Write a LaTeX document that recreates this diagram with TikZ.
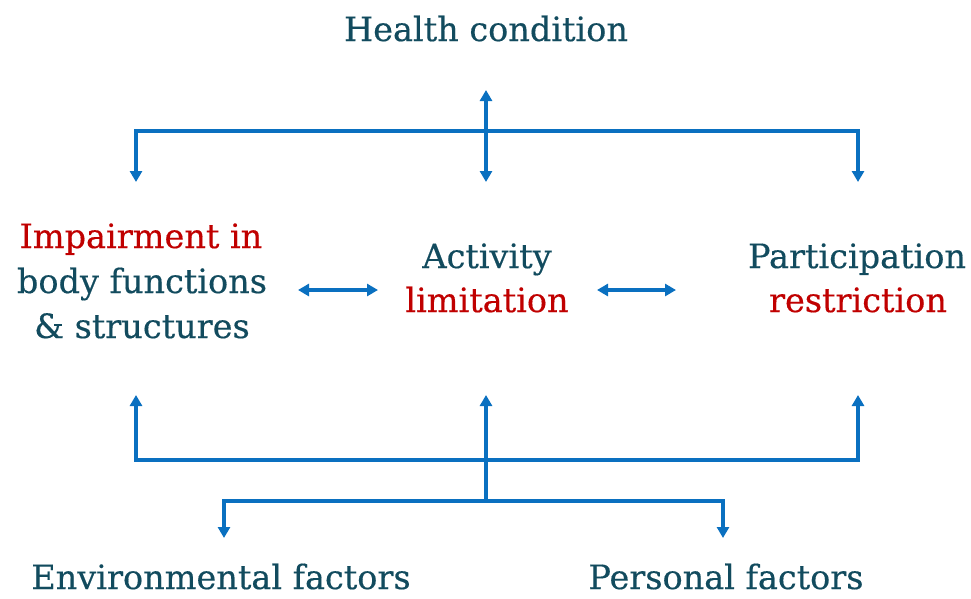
\documentclass[tikz,border=0pt]{standalone}
\usepackage{fontspec}
\setmainfont{DejaVu Serif}[FakeBold=0.4]
\usetikzlibrary{arrows.meta}
\definecolor{teal}{HTML}{124B5E}
\definecolor{redc}{HTML}{C00000}
\definecolor{bluec}{HTML}{0A70C0}
\tikzset{
  txt/.style={anchor=base, inner sep=0pt, text=teal, font=\fontsize{33.5}{40}\selectfont},
  rtxt/.style={txt, text=redc},
  conn/.style={draw=bluec, line width=3.4pt, line join=miter},
  tip/.style={-{Triangle[width=12pt,length=11pt]}},
  dtip/.style={{Triangle[width=12pt,length=11pt]}-{Triangle[width=12pt,length=11pt]}},
}
\begin{document}
\begin{tikzpicture}[x=1pt,y=-1pt]
\useasboundingbox (0,0) rectangle (971,598);
% texts
\node[txt] (hc) at (486,41) {Health condition};
\node[rtxt] (imp1) at (141,248) {Impairment in};
\node[txt] (imp2) at (142,293) {body functions};
\node[txt] (imp3) at (142,338) {\& structures};
\node[txt] (act1) at (487,268) {Activity};
\node[rtxt] (act2) at (487,312) {limitation};
\node[txt] (par1) at (857,268) {Participation};
\node[rtxt] (par2) at (858,312) {restriction};
\node[txt, text depth=0pt] (env) at (221,589) {Environmental factors};
\node[txt, text depth=0pt] (per) at (726,589) {Personal factors};
% coordinates
\coordinate (hcU) at (486,90);
\coordinate (hcD) at (486,182);
\coordinate (tL) at (136,131);
\coordinate (tR) at (858,131);
\coordinate (tLd) at (136,182);
\coordinate (tRd) at (858,182);
\coordinate (a1l) at (298,290);
\coordinate (a1r) at (378,290);
\coordinate (a2l) at (597,290);
\coordinate (a2r) at (676,290);
\coordinate (bL) at (136,460);
\coordinate (bR) at (858,460);
\coordinate (bLu) at (136,395);
\coordinate (bMu) at (486,395);
\coordinate (bRu) at (858,395);
\coordinate (bM) at (486,501);
\coordinate (eL) at (224,501);
\coordinate (eR) at (723,501);
\coordinate (eLd) at (224,538);
\coordinate (eRd) at (723,538);
% top connectors
\draw[conn,dtip] (hcD) -- (hcU);
\draw[conn,tip] (tR) -- (tL) -- (tLd);
\draw[conn,tip] (tL) -- (tR) -- (tRd);
% middle
\draw[conn,dtip] (a1l) -- (a1r);
\draw[conn,dtip] (a2l) -- (a2r);
% bottom
\draw[conn,tip] (bR) -- (bL) -- (bLu);
\draw[conn,tip] (bL) -- (bR) -- (bRu);
\draw[conn,tip] (bM) -- (bMu);
\draw[conn,tip] (eR) -- (eL) -- (eLd);
\draw[conn,tip] (eL) -- (eR) -- (eRd);
\end{tikzpicture}
\end{document}
